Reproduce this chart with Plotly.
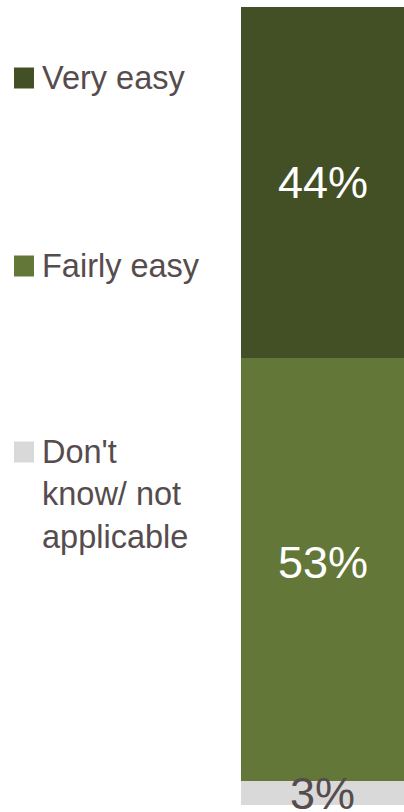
import plotly.graph_objects as go

# ---- data ----
categories = ["Very easy", "Fairly easy", "Don't<br>know/ not<br>applicable"]
values = [44, 53, 3]
value_labels = ["44%", "53%", "3%"]

# ---- style ----
colors = ["#435026", "#637738", "#d9d9d9"]
value_label_colors = ["#ffffff", "#ffffff", "#564c4d"]
value_label_shift = [0, 7, 0]
text_color = "#564c4d"
W, H = 404, 812
legend_center_px = [78, 266, 494]   # vertical centre of each legend label block
FONT = "Liberation Sans, Arial, sans-serif"

fig = go.Figure()
for cat, v, c in zip(categories, values, colors):
    fig.add_trace(go.Bar(x=[0], y=[v], name=cat, marker=dict(color=c, line=dict(width=0)),
                         width=1, hoverinfo="skip"))

annotations = []
shapes = []
cum = 0
for v, lab, col, sh in zip(values, value_labels, value_label_colors, value_label_shift):
    annotations.append(dict(x=0, y=cum + v / 2, xref="x", yref="y", text=lab, showarrow=False,
                            xanchor="center", yanchor="middle", yshift=sh,
                            font=dict(family=FONT, size=45, color=col)))
    cum += v

for i, (cat, c, cy) in enumerate(zip(categories, colors, legend_center_px)):
    annotations.append(dict(x=40 / W, y=1 - cy / H, xref="paper", yref="paper", text=cat,
                            showarrow=False, xanchor="left", yanchor="middle", align="left",
                            font=dict(family=FONT, size=32.5, color=text_color)))
    nlines = cat.count("<br>") + 1
    sq_cy = cy - (nlines - 1) * 21
    shapes.append(dict(type="rect", xref="paper", yref="paper",
                       x0=14 / W, x1=34 / W, y0=1 - (sq_cy + 10.5) / H, y1=1 - (sq_cy - 10.5) / H,
                       fillcolor=c, line=dict(width=0)))

fig.update_layout(
    barmode="stack", width=W, height=H, showlegend=False,
    margin=dict(l=0, r=0, t=0, b=0),
    paper_bgcolor="white", plot_bgcolor="white",
    bargap=0,
    xaxis=dict(domain=[241 / W, 1], range=[-0.5, 0.5], visible=False, fixedrange=True),
    yaxis=dict(domain=[7 / H, 1 - 7 / H], range=[100, 0], visible=False, fixedrange=True),
    annotations=annotations, shapes=shapes,
)

fig.write_html("out.html", config={"displayModeBar": False})
